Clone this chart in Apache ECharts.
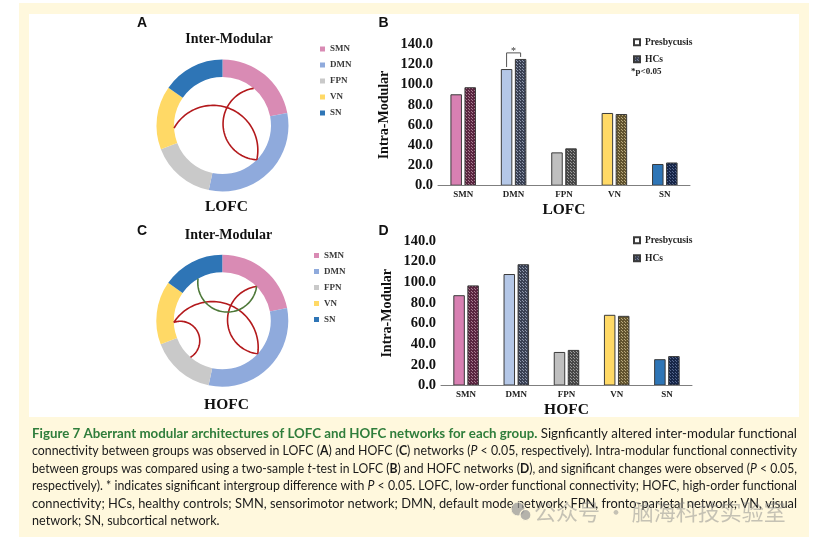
<!DOCTYPE html>
<html>
<head>
<meta charset="utf-8">
<script src="https://cdn.jsdelivr.net/npm/echarts@6/dist/echarts.min.js"></script>
<style>
  html, body { margin: 0; padding: 0; background: #fff; }
  #main { width: 814px; height: 544px; }
</style>
</head>
<body>
<div id="main"></div>
<script>
// ---- data ----
const modules = ['SMN', 'DMN', 'FPN', 'VN', 'SN'];
const moduleShare = [79, 113, 57, 56, 55];          // ring sectors (degrees)
const moduleColors = ['#D98BB4', '#8FAADC', '#C9C9C9', '#FFD966', '#2E75B6'];

// inter-modular links: [angle from, angle to, bend]  (angle clockwise from top)
const lofcLinks = [[267, 135, 0.43], [40, 135, 0.45]];
const hofcRedLinks = [[268, 133, 0.40], [45, 133, 0.44], [268, 221, 0.45]];
const hofcGreenLinks = [[330, 45, 0.5]];

const groups = ['Presbycusis', 'HCs'];
const lofcPresby = [90.5, 115.5, 33, 72, 21.5];
const lofcHC = [97.5, 125.5, 37, 71, 23];
const hofcPresby = [87.5, 108, 32.5, 68.5, 25.5];
const hofcHC = [97, 117.5, 34.5, 67.5, 28.5];
const lofcSig = [[1, 131.5]];                       // [category, bracket height]

const presbyColors = ['#D880B2', '#B4C7E7', '#BFBFBF', '#FFD966', '#2E75B6'];
const hcBase = ['#5a2640', '#3a4154', '#474747', '#62542f', '#172648'];
const hcDots = ['#a87d91', '#8f98ad', '#9a9a9a', '#b8a87c', '#56688f'];

const SERIF = '"Liberation Serif", "DejaVu Serif", serif';
const SANS = '"Liberation Sans", Arial, sans-serif';
const BAR_W = 11.5, BAR_GAP = 0.22;

function dotted(base, dot) {
  const c = document.createElement('canvas');
  c.width = 3; c.height = 3;
  const ctx = c.getContext('2d');
  ctx.fillStyle = base; ctx.fillRect(0, 0, 3, 3);
  ctx.fillStyle = dot; ctx.fillRect(1, 1, 1, 1); ctx.fillRect(0, 0, 1, 1);
  return { image: c, repeat: 'repeat' };
}
const hcFills = hcBase.map((b, i) => dotted(b, hcDots[i]));

// circular arc between two ring points, bowing toward the centre
function arcRender(color) {
  return function (params, api) {
    const a0 = api.value(0), a1 = api.value(1), bend = api.value(2);
    const p0 = api.coord([1, a0]), p1 = api.coord([1, a1]), o = api.coord([0, 0]);
    const mx = (p0[0] + p1[0]) / 2, my = (p0[1] + p1[1]) / 2;
    const dx = p1[0] - p0[0], dy = p1[1] - p0[1];
    const c = Math.hypot(dx, dy);
    let nx = -dy / c, ny = dx / c;
    if ((o[0] - mx) * nx + (o[1] - my) * ny < 0) { nx = -nx; ny = -ny; }
    const s = bend * c, h = c / 2;
    const R = (h * h + s * s) / (2 * s);
    const cx = mx + nx * (s - R), cy = my + ny * (s - R);
    const t0 = Math.atan2(p0[1] - cy, p0[0] - cx);
    const tm = Math.atan2(my + ny * s - cy, mx + nx * s - cx);
    let half = tm - t0;
    while (half > Math.PI) half -= 2 * Math.PI;
    while (half < -Math.PI) half += 2 * Math.PI;
    const pts = [];
    for (let i = 0; i <= 60; i++) {
      const t = t0 + 2 * half * i / 60;
      pts.push([cx + R * Math.cos(t), cy + R * Math.sin(t)]);
    }
    return { type: 'polyline', shape: { points: pts }, style: { stroke: color, lineWidth: 1.6, fill: null } };
  };
}

function bracketRender(params, api) {
  const i = api.value(0), top = api.value(1);
  const off = BAR_W * (1 + BAR_GAP) / 2;
  const base = api.coord([i, 0]);
  const pT = api.coord([i, lofcPresby[i]])[1], hT = api.coord([i, lofcHC[i]])[1], bT = api.coord([i, top])[1];
  const xl = base[0] - off, xr = base[0] + off;
  return { type: 'group', children: [
    { type: 'polyline', shape: { points: [[xl, pT - 2], [xl, bT], [xr, bT], [xr, hT - 2]] },
      style: { stroke: '#555', lineWidth: 1, fill: null } },
    { type: 'text', style: { text: '*', x: (xl + xr) / 2, y: bT - 2, align: 'center', verticalAlign: 'middle',
      fontSize: 10, fontFamily: SERIF, fill: '#333' } }
  ] };
}

const ringCenters = [[222.5, 125.5], [222.3, 320.7]];
const RING = [48.5, 66];

function pieSeries(k) {
  return {
    type: 'pie', center: ringCenters[k], radius: RING, startAngle: 90, clockwise: true,
    silent: true, label: { show: false }, labelLine: { show: false },
    data: modules.map((m, i) => ({ name: m, value: moduleShare[i], itemStyle: { color: moduleColors[i] } }))
  };
}

function barPair(g, presby, hc) {
  return [
    { name: groups[0], type: 'bar', xAxisIndex: g, yAxisIndex: g, barWidth: BAR_W, barGap: (BAR_GAP * 100) + '%',
      itemStyle: { color: '#fff', borderColor: '#3a3a3a', borderWidth: 1 }, silent: true,
      data: presby.map((v, i) => ({ value: v, itemStyle: { color: presbyColors[i] } })) },
    { name: groups[1], type: 'bar', xAxisIndex: g, yAxisIndex: g, barWidth: BAR_W,
      itemStyle: { color: hcFills[1], borderColor: '#3a3a3a', borderWidth: 1 }, silent: true,
      data: hc.map((v, i) => ({ value: v, itemStyle: { color: hcFills[i] } })) }
  ];
}

function xAx(g, name) {
  return {
    type: 'category', gridIndex: g, data: modules, z: 6,
    axisLine: { lineStyle: { color: '#7f7f7f', width: 1 } }, axisTick: { show: false },
    axisLabel: { color: '#222', fontFamily: SERIF, fontWeight: 'bold', fontSize: 9, margin: 4.5 },
    name: name, nameLocation: 'middle', nameGap: 16.5,
    nameTextStyle: { color: '#111', fontFamily: SERIF, fontWeight: 'bold', fontSize: 15.5 }
  };
}
function yAx(g) {
  return {
    type: 'value', gridIndex: g, min: 0, max: 140, interval: 20, z: 6,
    axisLine: { show: false }, axisTick: { show: false }, splitLine: { show: false },
    axisLabel: { formatter: v => v.toFixed(1), color: '#111', fontFamily: SERIF, fontWeight: 'bold', fontSize: 14.5, margin: 5 },
    name: 'Intra-Modular', nameLocation: 'middle', nameRotate: 90, nameGap: 47,
    nameTextStyle: { color: '#111', fontFamily: SERIF, fontWeight: 'bold', fontSize: 14 }
  };
}

// ---- caption ----
const captionLines = [
  [['g', 'Figure 7 Aberrant modular architectures of LOFC and HOFC networks for each group.'], ['n', ' Signficantly altered inter-modular functional']],
  [['n', 'connectivity between groups was observed in LOFC ('], ['b', 'A'], ['n', ') and HOFC ('], ['b', 'C'], ['n', ') networks ('], ['i', 'P'], ['n', ' < 0.05, respectively). Intra-modular functional connectivity']],
  [['n', 'between groups was compared using a two-sample '], ['i', 't'], ['n', '-test in LOFC ('], ['b', 'B'], ['n', ') and HOFC networks ('], ['b', 'D'], ['n', '), and significant changes were observed ('], ['i', 'P'], ['n', ' < 0.05,']],
  [['n', 'respectively). * indicates significant intergroup difference with '], ['i', 'P'], ['n', ' < 0.05. LOFC, low-order functional connectivity; HOFC, high-order functional']],
  [['n', 'connectivity; HCs, healthy controls; SMN, sensorimotor network; DMN, default mode network; FPN, fronto-parietal network; VN, visual']],
  [['n', 'network; SN, subcortical network.']]
];
const CAP_FONT = 'Lato', CAP_SIZE = 13;
const capStyles = {
  g: { fontWeight: 'bold', fontStyle: 'normal', fill: '#2F7D3B' },
  n: { fontWeight: 'normal', fontStyle: 'normal', fill: '#1a1a1a' },
  b: { fontWeight: 'bold', fontStyle: 'normal', fill: '#1a1a1a' },
  i: { fontWeight: 'normal', fontStyle: 'italic', fill: '#1a1a1a' }
};
const mctx = document.createElement('canvas').getContext('2d');
function segWidth(st, txt) {
  const s = capStyles[st];
  mctx.font = s.fontStyle + ' ' + s.fontWeight + ' ' + CAP_SIZE + 'px ' + CAP_FONT;
  return mctx.measureText(txt).width;
}
const capLeft = 32, capRight = 797, capTop = 433.5, capStep = 17.5;
const capElems = [];
const widths = captionLines.map(l => l.map(sg => segWidth(sg[0], sg[1])));
const scales = widths.map(w => (capRight - capLeft) / w.reduce((a, b) => a + b, 0));
const avgScale = scales.slice(0, 5).reduce((a, b) => a + b, 0) / 5;
captionLines.forEach((line, li) => {
  const sc = li === captionLines.length - 1 ? avgScale : scales[li];
  let x = capLeft;
  line.forEach((sg, si) => {
    const st = capStyles[sg[0]];
    capElems.push({ type: 'text', x: x, y: capTop + li * capStep, scaleX: sc, scaleY: 1, z: 10,
      style: { text: sg[1], fontSize: CAP_SIZE, fontFamily: CAP_FONT, fontWeight: st.fontWeight, fontStyle: st.fontStyle,
        fill: st.fill, align: 'left', verticalAlign: 'middle' } });
    x += widths[li][si] * sc;
  });
});

function label(text, x, y, size, family, extra) {
  return Object.assign({ type: 'text', x: x, y: y, z: 5,
    style: { text: text, fontSize: size, fontFamily: family, fontWeight: 'bold', fill: '#111', align: 'center', verticalAlign: 'middle' } }, extra || {});
}

const chart = echarts.init(document.getElementById('main'));
chart.setOption({
  animation: false,
  graphic: [
    { type: 'rect', shape: { x: 19, y: 3, width: 790, height: 534 }, style: { fill: '#FFF8DD' }, z: -10 },
    { type: 'rect', shape: { x: 29, y: 14, width: 770, height: 403 }, style: { fill: '#ffffff' }, z: -9 },
    label('A', 142, 23, 14, SANS), label('B', 383.5, 23.5, 14, SANS),
    label('C', 142, 231.5, 14, SANS), label('D', 383.5, 231, 14, SANS),
    label('Inter-Modular', 229, 39, 14, SERIF), label('Inter-Modular', 228.5, 235.5, 14, SERIF),
    label('LOFC', 226.5, 207, 15.5, SERIF), label('HOFC', 226.5, 405, 15.5, SERIF),
    { type: 'text', x: 631, y: 72, z: 5, style: { text: '*p<0.05', fontSize: 9, fontFamily: SERIF, fontWeight: 'bold', fill: '#222', align: 'left', verticalAlign: 'middle' } },
    ...capElems,
    { type: 'circle', shape: { cx: 518, cy: 509, r: 7 }, style: { fill: 'rgba(150,150,150,0.7)', stroke: '#FFF8DD', lineWidth: 1 }, z: 20 },
    { type: 'circle', shape: { cx: 525.5, cy: 515, r: 5.5 }, style: { fill: 'rgba(150,150,150,0.7)', stroke: '#FFF8DD', lineWidth: 1.2 }, z: 21 },
    { type: 'text', x: 534, y: 512, z: 20, style: { text: '公众号 · 脑海科技实验室', fontSize: 22, fontFamily: '"Noto Sans CJK SC"', fill: 'rgba(140,140,140,0.5)', align: 'left', verticalAlign: 'middle' } }
  ],
  legend: [
    { data: modules, orient: 'vertical', left: 315, top: 39, icon: 'rect', itemWidth: 5, itemHeight: 5, itemGap: 6,
      selectedMode: false, textStyle: { fontFamily: SERIF, fontWeight: 'bold', fontSize: 9, lineHeight: 10, color: '#3a3a3a' } },
    { data: modules, orient: 'vertical', left: 309, top: 245.5, icon: 'rect', itemWidth: 5, itemHeight: 5, itemGap: 6,
      selectedMode: false, textStyle: { fontFamily: SERIF, fontWeight: 'bold', fontSize: 9, lineHeight: 10, color: '#3a3a3a' } },
    { data: groups, orient: 'vertical', left: 628, top: 32, icon: 'rect', itemWidth: 6, itemHeight: 6, itemGap: 6.5,
      selectedMode: false, textStyle: { fontFamily: SERIF, fontWeight: 'bold', fontSize: 9.5, lineHeight: 10.5, color: '#222' } },
    { data: groups, orient: 'vertical', left: 628, top: 230, icon: 'rect', itemWidth: 6, itemHeight: 6, itemGap: 7.5,
      selectedMode: false, textStyle: { fontFamily: SERIF, fontWeight: 'bold', fontSize: 9.5, lineHeight: 10.5, color: '#222' } }
  ],
  polar: [{ center: ringCenters[0], radius: RING[0] }, { center: ringCenters[1], radius: RING[0] }],
  angleAxis: [0, 1].map(k => ({ polarIndex: k, type: 'value', min: 0, max: 360, startAngle: 90, clockwise: true, show: false })),
  radiusAxis: [0, 1].map(k => ({ polarIndex: k, type: 'value', min: 0, max: 1, show: false })),
  grid: [
    { left: 438, top: 44.3, width: 252, height: 141.4 },
    { left: 441, top: 241, width: 251, height: 144.5 }
  ],
  xAxis: [xAx(0, 'LOFC'), xAx(1, 'HOFC')],
  yAxis: [yAx(0), yAx(1)],
  series: [
    pieSeries(0), pieSeries(1),
    { type: 'custom', coordinateSystem: 'polar', polarIndex: 0, silent: true, z: 3, data: lofcLinks, renderItem: arcRender('#B3191C') },
    { type: 'custom', coordinateSystem: 'polar', polarIndex: 1, silent: true, z: 3, data: hofcRedLinks, renderItem: arcRender('#B3191C') },
    { type: 'custom', coordinateSystem: 'polar', polarIndex: 1, silent: true, z: 3, data: hofcGreenLinks, renderItem: arcRender('#4D7838') },
    ...barPair(0, lofcPresby, lofcHC),
    ...barPair(1, hofcPresby, hofcHC),
    { type: 'custom', xAxisIndex: 0, yAxisIndex: 0, silent: true, z: 4, data: lofcSig, renderItem: bracketRender }
  ]
});
</script>
</body>
</html>
